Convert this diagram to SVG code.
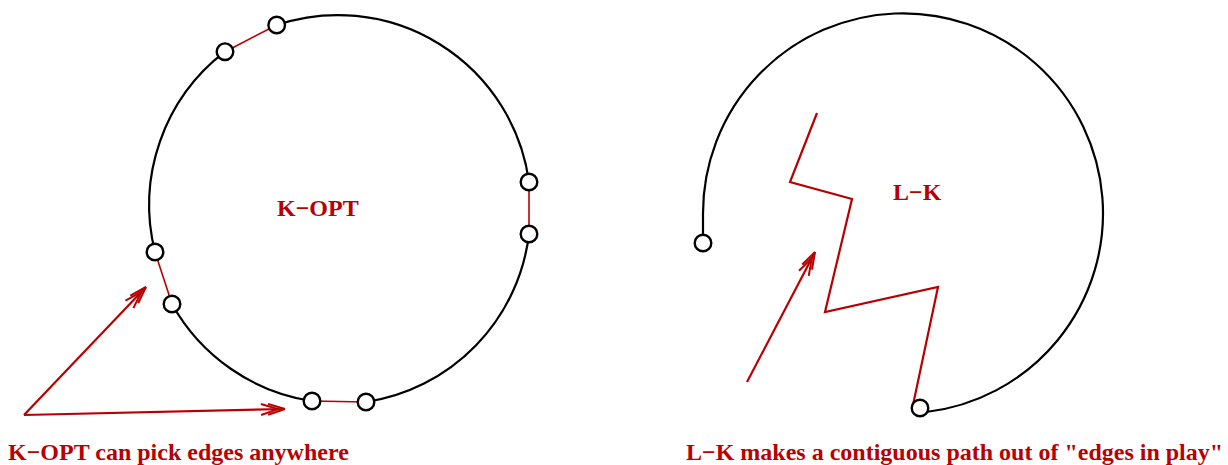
<svg xmlns="http://www.w3.org/2000/svg" width="1228" height="465" viewBox="0 0 1228 465">
  <style>
    .tour { fill: none; stroke: #000; stroke-width: 2.2; }
    .red { fill: none; stroke: #b80000; stroke-width: 2.2; stroke-linejoin: miter; }
    .thin { stroke-width: 1.6; }
    .node { fill: #fff; stroke: #000; stroke-width: 2.4; }
    .lbl { font-family: "Liberation Serif", "Times New Roman", serif; font-weight: bold; font-size: 24px; fill: #b80000; }
  </style>
  <defs>
    <marker id="dbl" viewBox="-28 -8 32 16" markerWidth="32" markerHeight="16" refX="0" refY="0" orient="auto" markerUnits="userSpaceOnUse">
      <path d="M0,0 L-17,-5.5 M0,0 L-17,5.5 M-7,0 L-24,-5.5 M-7,0 L-24,5.5" fill="none" stroke="#b80000" stroke-width="2"/>
    </marker>
  </defs>
  <rect width="1228" height="465" fill="#fff"/>

  <g id="connectors">
    <path class="tour" d="M276.7,25 A193,193 0 0 1 529,182"/>
    <path class="tour" d="M529,234 A193,193 0 0 1 366,402"/>
    <path class="tour" d="M312,401 A193,193 0 0 1 172,304"/>
    <path class="tour" d="M155,252 A193,193 0 0 1 225,51.7"/>
    <line class="red thin" x1="225" y1="51.7" x2="276.7" y2="25"/>
    <line class="red thin" x1="529" y1="182" x2="529" y2="234"/>
    <line class="red thin" x1="312" y1="401" x2="366" y2="402"/>
    <line class="red thin" x1="155" y1="252" x2="172" y2="304"/>
    <line class="red" x1="24" y1="415" x2="146" y2="287" marker-end="url(#dbl)"/>
    <line class="red" x1="24" y1="415" x2="285" y2="409" marker-end="url(#dbl)"/>
    <path class="tour" d="M703,236 L703,214 A200,200 0 1 1 926,412"/>
    <polyline class="red" points="817,113 790,182 852,199 825,312 938,287 913,405"/>
    <line class="red" x1="747" y1="382" x2="815" y2="252" marker-end="url(#dbl)"/>
  </g>

  <g id="node-k1"><circle class="node" cx="225" cy="51.7" r="8.3"/></g>
  <g id="node-k2"><circle class="node" cx="276.7" cy="25" r="8.3"/></g>
  <g id="node-k3"><circle class="node" cx="529" cy="182" r="8.3"/></g>
  <g id="node-k4"><circle class="node" cx="529" cy="234" r="8.3"/></g>
  <g id="node-k5"><circle class="node" cx="366" cy="402" r="8.3"/></g>
  <g id="node-k6"><circle class="node" cx="312" cy="401" r="8.3"/></g>
  <g id="node-k7"><circle class="node" cx="172" cy="304" r="8.3"/></g>
  <g id="node-k8"><circle class="node" cx="155" cy="252" r="8.3"/></g>
  <g id="node-l1"><circle class="node" cx="703" cy="243" r="8.3"/></g>
  <g id="node-l2"><circle class="node" cx="920" cy="408" r="8.3"/></g>

  <g id="labels">
    <text class="lbl" x="277" y="216">K−OPT</text>
    <text class="lbl" x="893" y="200">L−K</text>
    <text class="lbl" x="8" y="460">K−OPT can pick edges anywhere</text>
    <text class="lbl" x="686" y="460">L−K makes a contiguous path out of "edges in play"</text>
  </g>
</svg>
